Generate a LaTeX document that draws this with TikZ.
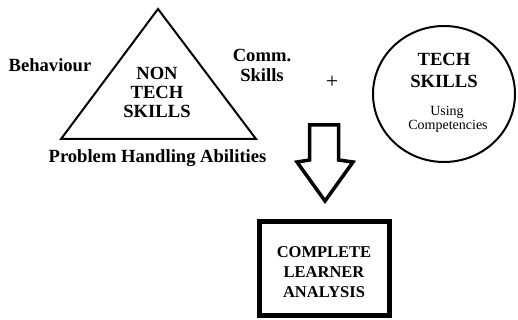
\documentclass[tikz,border=0pt]{standalone}
\usepackage{fontspec}
\setmainfont{Liberation Serif}
\begin{document}
\begin{tikzpicture}[x=1pt,y=-1pt,
  lbl/.style={font=\fontsize{18.6}{19}\selectfont\bfseries, anchor=base, inner sep=0pt},
  small/.style={font=\fontsize{14}{15}\selectfont, anchor=base, inner sep=0pt},
  boxtxt/.style={font=\fontsize{16.5}{18}\selectfont\bfseries, anchor=base, inner sep=0pt}]
\useasboundingbox (0,0) rectangle (518,320);
% triangle
\draw[line width=2pt, line join=miter] (158,9) -- (256,139) -- (61,139) -- cycle;
% circle
\draw[line width=2pt] (444,94) ellipse [x radius=71, y radius=68];
% arrow
\draw[line width=3.5pt, line join=miter] (309.5,125) -- (338.5,125) -- (338.5,160) -- (353,162) -- (325,201) -- (297,162) -- (309.5,160) -- cycle;
% box
\draw[line width=5pt] (259.5,221.5) rectangle (389.5,315.5);
% texts
\node[lbl] (beh) at (50,72) {Behaviour};
\node[lbl] (comm) at (262,62) {Comm.};
\node[lbl] (skl) at (262,82) {Skills};
\node[lbl] (non) at (157,80) {NON};
\node[lbl] (tech1) at (157,99) {TECH};
\node[lbl] (skills1) at (157,118) {SKILLS};
\node[lbl] (prob) at (157.5,163) {Problem Handling Abilities};
\node[font=\fontsize{22}{22}\selectfont, inner sep=0pt] (plus) at (332,82) {+};
\node[lbl] (tech2) at (444,66) {TECH};
\node[lbl] (skills2) at (444,88) {SKILLS};
\node[small] (using) at (447,116) {Using};
\node[small] (comp) at (448,130) {Competencies};
\node[boxtxt] (c1) at (324,257) {COMPLETE};
\node[boxtxt] (c2) at (324,277) {LEARNER};
\node[boxtxt] (c3) at (324,297) {ANALYSIS};
\end{tikzpicture}
\end{document}
